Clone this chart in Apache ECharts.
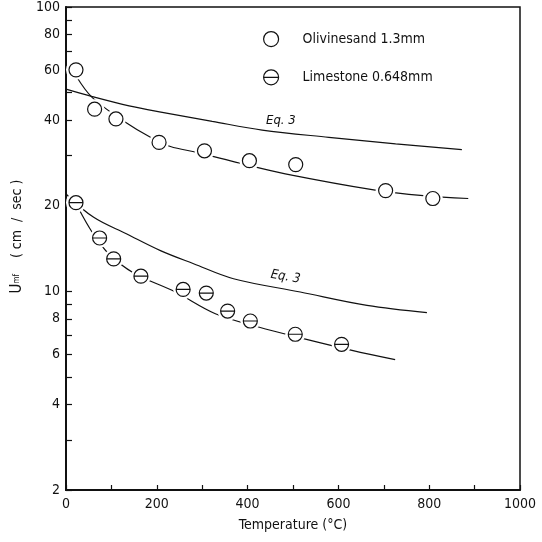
<!DOCTYPE html>
<html>
<head>
<meta charset="utf-8">
<script src="https://cdn.jsdelivr.net/npm/echarts@6/dist/echarts.min.js"></script>
<style>
  html, body { margin: 0; padding: 0; background: #fff; }
  #chart { width: 542px; height: 542px; }
</style>
</head>
<body>
<div id="chart"></div>
<script>
// Minimum fluidization velocity vs. bed temperature

// Olivinesand 1.3 mm: measured points and fitted curve
const olivineT = [22, 63, 110, 205, 305, 404, 506, 704, 808];
const olivineU = [60.1, 43.7, 40.4, 33.4, 31.2, 28.8, 27.9, 22.6, 21.2];
const olivineFitT = [22, 58, 131, 186, 230, 289, 384, 483, 681, 787, 886];
const olivineFitU = [57.3, 48.0, 39.3, 34.8, 32.3, 30.8, 28.2, 25.9, 22.7, 21.7, 21.2];

// Limestone 0.648 mm: measured points and fitted curve
const limestoneT = [22, 74, 105, 165, 258, 309, 356, 406, 505, 607];
const limestoneU = [20.5, 15.4, 13.0, 11.3, 10.15, 9.86, 8.52, 7.86, 7.06, 6.51];
const limestoneFitT = [28, 58, 94, 149, 241, 329, 424, 523, 630, 725];
const limestoneFitU = [19.5, 16.1, 13.55, 11.6, 9.94, 8.34, 7.49, 6.82, 6.20, 5.75];

// Eq. 3 predictions
const eq3UpperT = [0, 58, 139, 212, 322, 432, 579, 726, 872];
const eq3UpperU = [51.4, 48.4, 44.9, 42.6, 39.6, 36.9, 34.8, 33.0, 31.5];
const eq3LowerT = [0, 61, 134, 208, 281, 369, 516, 663, 795];
const eq3LowerU = [22.0, 18.2, 15.9, 13.9, 12.5, 11.07, 9.94, 8.92, 8.41];

// Axis ticks
const xTicks = [0, 100, 200, 300, 400, 500, 600, 700, 800, 900, 1000];
const xLabels = [0, 200, 400, 600, 800, 1000];
const yLabels = [2, 4, 6, 8, 10, 20, 40, 60, 80, 100];
const yTicks = [2, 3, 4, 5, 6, 7, 8, 9, 10, 20, 30, 40, 50, 60, 70, 80, 90, 100];

const zip = (a, b) => a.map((v, i) => [v, b[i]]);

const FONT = '"DejaVu Sans Condensed", "Liberation Sans Narrow", "Liberation Sans", sans-serif';
const slashCircle = 'path://M0,10 A10,10 0 1,1 20,10 A10,10 0 1,1 0,10 Z M0,10 L20,10';

const lineStyle = { color: '#111', width: 1.2 };
const curve = (t, u) => ({
  type: 'line', data: zip(t, u), smooth: 0.35,
  symbol: 'none', lineStyle, silent: true, z: 1
});
// white ring around each marker so fitted curves stop short of the circles
const halo = (t, u) => ({
  type: 'scatter', data: zip(t, u), symbol: 'circle', symbolSize: 20, z: 2, silent: true,
  itemStyle: { color: '#fff', opacity: 1 }
});
const markerStyle = { color: '#fff', borderColor: '#111', borderWidth: 1.2, opacity: 1 };

const chart = echarts.init(document.getElementById('chart'), null, { renderer: 'canvas' });

chart.setOption({
  backgroundColor: '#fff',
  animation: false,
  textStyle: { fontFamily: FONT, color: '#111' },
  grid: {
    left: 66, right: 22, top: 6, bottom: 52,
    show: true, borderColor: '#111', borderWidth: 1.5
  },
  legend: {
    orient: 'vertical',
    left: 258, top: 26,
    itemGap: 22,
    itemWidth: 15, itemHeight: 15,
    textStyle: { fontFamily: FONT, fontSize: 14, color: '#111', padding: [0, 0, 0, 19] },
    data: [
      { name: 'Olivinesand 1.3mm', icon: 'circle', itemStyle: markerStyle },
      { name: 'Limestone 0.648mm', icon: slashCircle, itemStyle: markerStyle }
    ]
  },
  xAxis: {
    type: 'value', min: 0, max: 1000,
    name: 'Temperature (°C)',
    nameLocation: 'middle', nameGap: 28,
    nameTextStyle: { fontFamily: FONT, fontSize: 14, color: '#111' },
    axisLine: { lineStyle: { color: '#111', width: 2 } },
    axisTick: { inside: true, length: 5, customValues: xTicks, lineStyle: { color: '#111', width: 1.2 } },
    axisLabel: { customValues: xLabels, fontSize: 14, color: '#111', margin: 7, formatter: v => String(v) },
    splitLine: { show: false }
  },
  yAxis: {
    type: 'log', logBase: 10, min: 2, max: 100,
    name: '{u|U}{s|mf}    ( cm  /  sec )',
    nameLocation: 'middle', nameGap: 37, nameRotate: 90,
    nameTextStyle: {
      fontFamily: FONT, fontSize: 14, color: '#111',
      rich: {
        u: { fontFamily: FONT, fontSize: 15, color: '#111', padding: [0, 0, 0, 24] },
        s: { fontFamily: FONT, fontSize: 8, color: '#111', verticalAlign: 'bottom', padding: [0, 0, 4, 0] }
      }
    },
    axisLine: { lineStyle: { color: '#111', width: 2 } },
    axisTick: { inside: true, length: 6, customValues: yTicks, lineStyle: { color: '#111', width: 1.2 } },
    axisLabel: { customValues: yLabels, fontSize: 14, color: '#111', margin: 6, formatter: v => String(v) },
    splitLine: { show: false },
    minorTick: { show: false }
  },
  series: [
    curve(eq3UpperT, eq3UpperU),
    curve(eq3LowerT, eq3LowerU),
    curve(olivineFitT, olivineFitU),
    curve(limestoneFitT, limestoneFitU),
    halo(olivineT, olivineU),
    halo(limestoneT, limestoneU),
    {
      name: 'Olivinesand 1.3mm', type: 'scatter', data: zip(olivineT, olivineU),
      symbol: 'circle', symbolSize: 14, z: 3, itemStyle: markerStyle
    },
    {
      name: 'Limestone 0.648mm', type: 'scatter', data: zip(limestoneT, limestoneU),
      symbol: slashCircle, symbolSize: 14, z: 3, itemStyle: markerStyle
    }
  ],
  graphic: [
    { type: 'text', left: 266, top: 114, style: { text: 'Eq. 3', font: 'italic 13px ' + FONT, fill: '#111' } },
    { type: 'text', x: 272, y: 268, rotation: -0.17, style: { text: 'Eq. 3', font: 'italic 13px ' + FONT, fill: '#111' } }
  ]
});
</script>
</body>
</html>
